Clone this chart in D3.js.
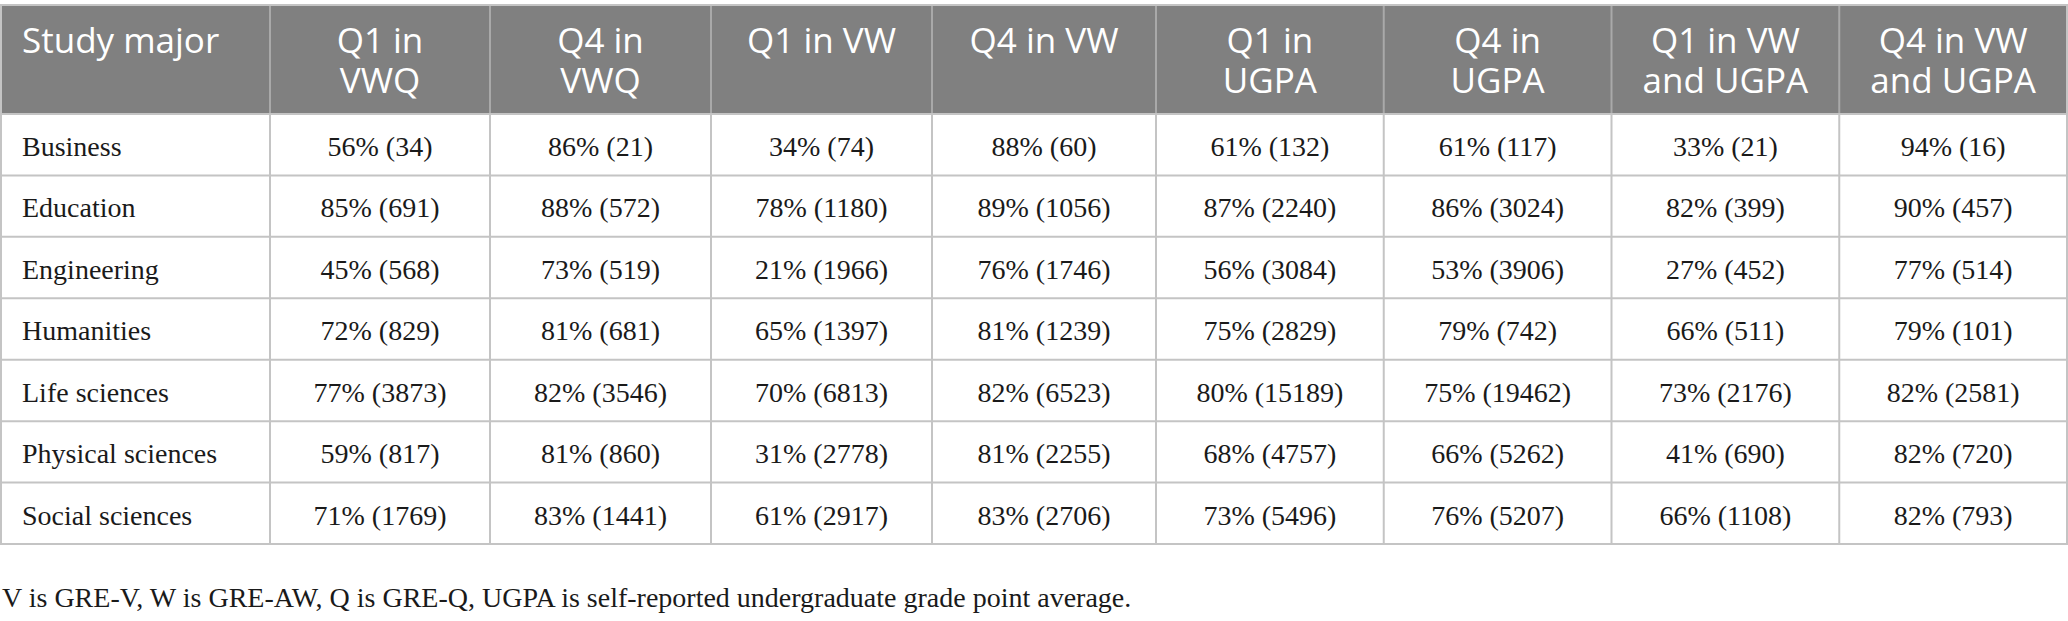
<!DOCTYPE html>
<html>
<head>
<meta charset="utf-8">
<script src="https://cdn.jsdelivr.net/npm/d3@7"></script>
<style>
  body { margin: 0; background: #fff; }
  .head { font-family: "Open Sans", sans-serif; font-size: 35px; fill: #fff; }
  .cell { font-family: "Liberation Serif", serif; font-size: 28px; fill: #1a1a1a; }
</style>
</head>
<body>
<svg id="tbl" width="2068" height="621"></svg>
<script>
  const majors = ["Business", "Education", "Engineering", "Humanities",
    "Life sciences", "Physical sciences", "Social sciences"];

  const headers = ["Study major", "Q1 in\nVWQ", "Q4 in\nVWQ", "Q1 in VW", "Q4 in VW",
    "Q1 in\nUGPA", "Q4 in\nUGPA", "Q1 in VW\nand UGPA", "Q4 in VW\nand UGPA"];

  // [percent, n] per major
  const q1VWQ = [[56, 34], [85, 691], [45, 568], [72, 829], [77, 3873], [59, 817], [71, 1769]];
  const q4VWQ = [[86, 21], [88, 572], [73, 519], [81, 681], [82, 3546], [81, 860], [83, 1441]];
  const q1VW = [[34, 74], [78, 1180], [21, 1966], [65, 1397], [70, 6813], [31, 2778], [61, 2917]];
  const q4VW = [[88, 60], [89, 1056], [76, 1746], [81, 1239], [82, 6523], [81, 2255], [83, 2706]];
  const q1UGPA = [[61, 132], [87, 2240], [56, 3084], [75, 2829], [80, 15189], [68, 4757], [73, 5496]];
  const q4UGPA = [[61, 117], [86, 3024], [53, 3906], [79, 742], [75, 19462], [66, 5262], [76, 5207]];
  const q1VWUGPA = [[33, 21], [82, 399], [27, 452], [66, 511], [73, 2176], [41, 690], [66, 1108]];
  const q4VWUGPA = [[94, 16], [90, 457], [77, 514], [79, 101], [82, 2581], [82, 720], [82, 793]];

  const note = "V is GRE-V, W is GRE-AW, Q is GRE-Q, UGPA is self-reported undergraduate grade point average.";

  const columns = [q1VWQ, q4VWQ, q1VW, q4VW, q1UGPA, q4UGPA, q1VWUGPA, q4VWUGPA];

  const svg = d3.select("#tbl");
  const x0 = 1, x1 = 2067, yTop = 5, headBottom = 114, yBottom = 544;

  // column edges: index 0 = left edge of first data column
  const edge = d3.scaleLinear().domain([0, 1, 3, 4, 8]).range([270, 490, 932, 1156, x1]);
  const y = d3.scaleBand().domain(majors).range([headBottom, yBottom]);

  // header band
  svg.append("rect")
    .attr("x", x0).attr("y", yTop)
    .attr("width", x1 - x0).attr("height", headBottom - yTop)
    .attr("fill", "#808080");

  // row lines
  svg.append("g")
    .selectAll("line")
    .data(majors.slice(1))
    .join("line")
    .attr("x1", x0).attr("x2", x1)
    .attr("y1", d => y(d)).attr("y2", d => y(d))
    .attr("stroke", "#c4c4c4").attr("stroke-width", 2);

  // column lines, body part
  svg.append("g")
    .selectAll("line")
    .data(d3.range(0, 8))
    .join("line")
    .attr("x1", d => edge(d)).attr("x2", d => edge(d))
    .attr("y1", headBottom).attr("y2", yBottom)
    .attr("stroke", "#c4c4c4").attr("stroke-width", 2);

  // column lines, header part
  svg.append("g")
    .selectAll("line")
    .data(d3.range(0, 8))
    .join("line")
    .attr("x1", d => edge(d)).attr("x2", d => edge(d))
    .attr("y1", yTop).attr("y2", headBottom)
    .attr("stroke", "#a9a9a9").attr("stroke-width", 2);

  // outer frame
  svg.append("rect")
    .attr("x", x0).attr("y", yTop)
    .attr("width", x1 - x0).attr("height", yBottom - yTop)
    .attr("fill", "none")
    .attr("stroke", "#c4c4c4").attr("stroke-width", 2);
  svg.append("line")
    .attr("x1", x0).attr("x2", x1)
    .attr("y1", headBottom).attr("y2", headBottom)
    .attr("stroke", "#c4c4c4").attr("stroke-width", 2);

  // header text, one text element per line
  const headLines = headers.flatMap((h, i) =>
    h.split("\n").map((t, k) => ({ t, i, k })));
  svg.append("g").attr("class", "head")
    .selectAll("text")
    .data(headLines)
    .join("text")
    .attr("x", d => d.i === 0 ? 22 : (edge(d.i - 1) + edge(d.i)) / 2)
    .attr("y", d => 53 + d.k * 40)
    .attr("text-anchor", d => d.i === 0 ? "start" : "middle")
    .text(d => d.t);

  // major labels
  svg.append("g").attr("class", "cell")
    .selectAll("text")
    .data(majors)
    .join("text")
    .attr("x", 22)
    .attr("y", d => y(d) + 42)
    .text(d => d);

  // values
  columns.forEach((col, c) => {
    svg.append("g").attr("class", "cell")
      .selectAll("text")
      .data(col)
      .join("text")
      .attr("x", (edge(c) + edge(c + 1)) / 2)
      .attr("y", (d, i) => y(majors[i]) + 42)
      .attr("text-anchor", "middle")
      .text(d => `${d[0]}% (${d[1]})`);
  });

  svg.append("text")
    .attr("class", "cell")
    .attr("x", 2).attr("y", 607)
    .text(note);
</script>
</body>
</html>
